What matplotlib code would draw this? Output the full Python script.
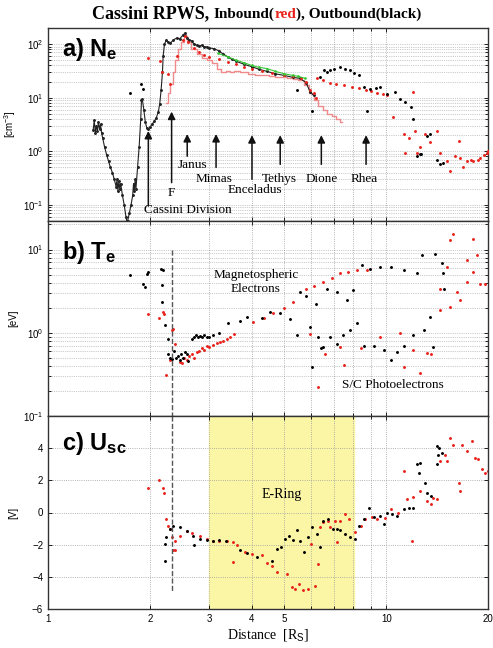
import numpy as np
import matplotlib
matplotlib.use('Agg')
import matplotlib.pyplot as plt
from matplotlib.ticker import FixedLocator, NullFormatter

# ---------------- data ----------------
# panel a) electron density, outbound (black) continuous trace
out_a_line_x = [1.36, 1.37, 1.38, 1.39, 1.40, 1.41, 1.42, 1.43, 1.44, 1.45, 1.47, 1.49, 1.51, 1.53,
                1.55, 1.57, 1.59, 1.60, 1.61, 1.62, 1.63, 1.64, 1.66, 1.68, 1.70, 1.71, 1.72, 1.74,
                1.76, 1.78, 1.79, 1.80, 1.81, 1.82, 1.84, 1.86, 1.88, 1.89, 1.90, 1.92, 1.94, 1.96,
                1.98, 2.00, 2.03, 2.06, 2.09, 2.12, 2.14, 2.16, 2.18, 2.19, 2.21, 2.24, 2.26, 2.30,
                2.35, 2.40, 2.45, 2.50, 2.54, 2.58, 2.62, 2.66, 2.70, 2.75, 2.80, 2.85, 2.90, 2.95,
                3.00, 3.10, 3.20, 3.30, 3.40, 3.50, 3.60, 3.80, 4.00, 4.20, 4.44, 4.70, 5.00, 5.30,
                5.56, 5.80, 5.95, 6.10]
out_a_line_y = [2.5, 3.8, 2.2, 3.0, 2.4, 3.5, 2.6, 3.2, 2.2, 1.8, 1.2, 0.87, 0.65, 0.5,
                0.4, 0.3, 0.22, 0.3, 0.18, 0.28, 0.2, 0.25, 0.15, 0.1, 0.06, 0.05, 0.05, 0.07,
                0.1, 0.15, 0.25, 0.18, 0.3, 0.2, 0.5, 1.2, 4.0, 8.9, 9.5, 6.0, 3.5, 2.7,
                2.6, 2.8, 3.2, 3.6, 4.2, 5.5, 7.7, 14, 30, 60, 100, 120, 110, 105,
                120, 130, 125, 145, 160, 130, 120, 115, 100, 95, 92, 95, 90, 88,
                85, 82, 75, 65, 58, 52, 48, 42, 38, 34, 31, 28, 26, 24,
                23, 19, 13, 11]
# outbound scattered points
out_a_dots_x = [1.75, 1.89, 1.91, 5.44, 6.03, 6.38, 6.53, 6.68, 6.84, 7.0, 7.3, 7.55, 7.83, 8.05,
                8.29, 8.59, 8.77, 8.97, 9.3, 9.6, 10.06, 10.6, 11.0, 11.37, 11.88, 12.0, 12.3,
                12.6, 12.7, 13.2, 13.5, 14.1, 14.4, 14.7]
out_a_dots_y = [12.4, 18.4, 14.8, 13.7, 5.7, 24.6, 32.8, 30, 32.8, 35, 38, 35, 32.8, 29,
                26, 16, 5.7, 14.8, 15, 16, 11.9, 12.8, 9.5, 8.3, 6.7, 4.0, 0.81,
                0.9, 0.88, 1.94, 2.1, 0.7, 0.57, 0.6]
# inbound (red) trace and points
in_a_line_x = [2.24, 2.28, 2.32, 2.36, 2.40, 2.45, 2.50, 2.54, 2.60, 2.70, 2.80, 2.90, 3.00, 3.10,
               3.20, 3.30, 3.40, 3.50, 3.60, 3.80, 4.00, 4.20, 4.40, 4.60, 4.80, 5.00, 5.20,
               5.40, 5.60, 5.80, 6.00, 6.20, 6.40, 6.60, 6.80, 7.00, 7.20, 7.40]
in_a_line_y = [8, 12, 18, 30, 50, 80, 110, 140, 110, 80, 65, 55, 50, 45,
               35, 30, 31, 30, 32, 30, 28, 27, 26, 25, 24, 24, 23,
               22, 21, 17, 12, 9, 7, 6, 5, 4.5, 4, 3.5]
in_a_dots_x = [1.98, 2.14, 2.17, 2.27, 2.29, 2.40, 2.50, 2.54, 2.60, 2.70, 2.80, 2.90, 3.00, 3.20,
               3.40, 3.60, 3.80, 4.00, 4.30, 4.60, 5.00, 5.30, 5.60, 5.80, 5.95, 6.10, 6.20,
               6.23, 6.50, 6.80, 7.10, 7.50, 7.92, 8.30, 8.70, 9.00, 9.40, 9.80, 10.06, 10.5,
               11.26, 11.4, 11.65, 11.97, 12.2, 12.3, 12.6, 13.0, 13.5, 14.1, 14.4, 15.1, 15.4,
               16.0, 16.4, 16.5, 16.9, 17.3, 17.8, 18.1, 18.7, 19.0, 19.5, 19.8, 20.0]
in_a_dots_y = [54, 48, 30, 28, 18, 60, 120, 140, 110, 85, 70, 62, 58, 52,
               46, 42, 38, 35, 32, 29, 27, 25, 23, 20, 14, 12, 10,
               23, 21, 19, 18, 17, 16, 15, 14, 13.5, 12.5, 11.5, 11, 4.3,
               2.1, 0.94, 1.8, 12.8, 2.4, 0.94, 1.2, 2.1, 1.5, 2.4, 0.94, 0.66, 0.43,
               0.8, 1.56, 0.76, 0.5, 0.65, 0.7, 0.66, 0.7, 0.76, 0.85, 0.94, 1.0]
# model curve (green)
green_x = [3.19, 3.4, 3.6, 3.8, 4.0, 4.2, 4.44, 4.7, 5.0, 5.3, 5.5, 5.76]
green_y = [67, 58, 50, 45, 40, 37, 35, 31, 28, 26, 25, 23]

# moon / ring markers: name, x, arrow head, arrow tail, label y
moon_names = ['Cassini Division', 'F', 'Janus', 'Mimas', 'Enceladus', 'Tethys', 'Dione', 'Rhea']
moon_x = [1.98, 2.32, 2.58, 3.14, 4.01, 4.86, 6.43, 8.72]
moon_label_x = [2.6, 2.32, 2.68, 3.09, 4.08, 4.84, 6.45, 8.6]
moon_head = [2.4, 5.5, 2.1, 2.1, 2.0, 2.0, 2.0, 2.0]
moon_tail = [0.095, 0.26, 0.81, 0.5, 0.3, 0.57, 0.57, 0.57]
moon_label_y = [0.081, 0.17, 0.55, 0.31, 0.19, 0.31, 0.31, 0.30]

# panel b) electron temperature
out_b_x = [1.75, 1.91, 1.93, 1.96, 1.97, 2.16, 2.19, 2.17, 2.18, 2.22, 2.27,
           2.27, 2.30, 2.33, 2.36, 2.39, 2.42, 2.45, 2.48, 2.51, 2.54, 2.57, 2.60,
           2.66, 2.70, 2.74, 2.78, 2.82, 2.86, 2.90, 2.95, 3.00, 3.07, 3.20, 3.40, 3.70,
           3.87, 4.29, 4.53, 4.86, 5.20, 5.56, 5.81, 6.20, 6.67, 7.14, 7.65, 8.00, 8.46, 8.97,
           9.60, 10.3, 11.26, 12.3, 12.76, 13.9, 14.6, 14.7, 14.8,
           5.44, 5.95, 6.30, 6.52, 6.84, 7.14, 7.47, 7.83, 8.18, 8.59, 9.19, 9.83, 10.3,
           10.75, 11.26, 12.0, 12.9, 13.5, 13.8, 6.03, 6.43]
out_b_y = [5.0, 3.9, 3.5, 5.1, 5.4, 5.9, 5.6, 3.7, 2.35, 1.24, 0.85,
           0.55, 0.5, 0.48, 0.6, 0.5, 0.52, 0.47, 0.55, 0.5, 0.58, 0.55, 0.46,
           0.85, 0.9, 0.95, 0.88, 0.92, 0.88, 0.93, 0.9, 0.88, 0.95, 1.0, 1.3, 1.4,
           1.55, 1.49, 1.78, 1.71, 1.45, 3.1, 2.8, 2.2, 3.4, 3.1, 2.45, 3.25, 6.5, 5.9,
           6.2, 6.2, 5.6, 5.2, 8.7, 8.9, 6.8, 5.15, 3.4,
           0.93, 1.18, 0.9, 0.68, 0.9, 0.74, 0.93, 1.08, 1.3, 0.7, 0.7, 0.62, 0.47,
           0.59, 0.7, 0.93, 1.08, 1.55, 0.68, 0.39, 0.65]
in_b_x = [1.97, 2.13, 2.19, 2.21, 2.24, 2.29, 2.32, 2.35, 2.37,
          2.45, 2.49, 2.53, 2.57, 2.62, 2.66, 2.70, 2.75, 2.80, 2.85, 2.90, 2.95, 3.00, 3.08,
          3.15, 3.23, 3.30, 3.38, 3.46, 3.54,
          4.05, 4.35, 4.64, 5.0, 5.31, 5.81, 6.1, 6.52, 6.9, 7.3, 7.7, 8.18, 8.77,
          5.95, 6.6, 7.3, 8.4, 9.6, 11.0, 12.0, 13.2, 13.6, 12.6, 7.5, 11.3,
          14.4, 15.4, 16.2, 16.5, 17.3, 18.1, 19.0, 19.6, 15.4, 15.8, 18.1, 17.3, 18.5,
          14.4, 15.1, 6.3]
in_b_y = [1.66, 1.49, 1.78, 1.66, 0.31, 0.47, 1.08, 1.12, 0.74,
          0.45, 0.43, 0.5, 0.47, 0.52, 0.55, 0.5, 0.59, 0.6, 0.65, 0.62, 0.7, 0.68, 0.72,
          0.75, 0.78, 0.8, 0.85, 0.9, 0.96,
          1.36, 1.5, 1.71, 2.0, 2.35, 3.4, 3.6, 4.1, 4.6, 5.15, 5.4, 5.6, 5.6,
          0.96, 0.56, 0.68, 0.65, 0.9, 0.98, 0.62, 0.57, 0.56, 0.33, 0.41, 0.39,
          1.87, 2.05, 3.1, 2.45, 4.1, 5.4, 3.9, 3.9, 12.9, 15.3, 13.5, 7.4, 8.5,
          3.4, 6.2, 0.22]

# panel c) spacecraft potential
out_c_x = [2.22, 2.22, 2.24, 2.29, 2.35, 2.46, 2.57, 2.69, 2.71, 2.81, 2.95, 3.08, 3.2, 3.35,
           3.7, 3.87, 4.14, 4.59, 4.74, 4.89, 5.03, 5.17, 5.31, 5.45, 5.56, 5.71, 5.88,
           6.03, 6.23, 6.36, 6.52, 6.74, 6.98, 7.14, 7.3, 7.56, 7.83, 8.1, 8.29, 8.59,
           8.87, 9.19, 9.6, 9.83, 10.06, 10.4, 10.75, 11.26, 11.65, 12.0, 12.3, 12.6,
           12.5, 13.05, 13.2, 13.6, 14.1, 14.3, 14.6, 14.1, 14.2]
out_c_y = [-1.95, -3.02, -1.5, -1.0, -0.82, -0.93, -1.13, -1.44, -2.05, -1.64, -1.7, -1.75, -1.7, -1.8,
           -2.32, -2.5, -2.78, -3.02, -2.26, -2.16, -1.64, -1.44, -1.69, -1.07, -1.75, -2.47, -1.54,
           -0.93, -1.33, -2.16, -0.51, -0.41, -1.03, -1.03, -1.09, -1.33, -1.54, -1.64, -0.82, -0.41,
           0.31, -0.31, -0.2, -0.72, 0.0, -0.1, -0.2, 0.21, 0.31, 0.31, 2.99, 3.09,
           2.47, 1.85, 1.23, 1.03, 4.12, 4.01, 3.7, 2.99, 3.6]
in_c_x = [1.97, 2.13, 2.19, 2.21, 2.24, 2.27, 2.29, 2.32, 2.34, 2.37, 2.37, 2.46, 2.57, 2.66,
          2.81, 2.95, 3.08, 3.2, 3.38, 3.53, 3.62, 3.53,
          3.82, 4.0, 4.29, 4.45, 4.61, 4.77, 5.08, 5.26, 5.37, 5.53, 5.69, 5.88, 6.16, 6.3,
          5.99, 6.36, 6.52, 6.74, 7.06, 7.3, 7.56, 7.74, 7.14, 6.84, 8.1, 8.4, 8.67, 9.06,
          9.39, 9.95, 10.3, 10.84, 11.26, 11.5, 11.9, 12.0, 12.6, 13.2, 13.6, 13.8, 14.1,
          14.4, 14.9, 15.1, 15.4, 15.8, 16.4, 16.5, 16.8, 17.3, 17.9, 18.3, 18.7, 19.2,
          19.6, 20.0]
in_c_y = [1.54, 2.0, 1.5, 1.23, -0.4, -0.82, -1.03, -1.54, -2.36, -2.36, -1.75, -1.44, -1.13, -1.3,
          -1.44, -1.64, -1.75, -1.8, -1.75, -1.85, -2.05, -3.09,
          -2.47, -2.57, -2.67, -3.12, -3.33, -3.7, -3.8, -4.63, -4.73, -4.42, -4.83, -4.73, -4.59, -3.23,
          -1.95, -0.93, -0.62, -0.51, -0.51, -0.51, -0.1, -0.41, -1.81, -0.93, -1.23, -0.82, -0.41, -0.27,
          -0.41, -0.35, 0.21, 0.0, 2.57, 0.82, -1.75, 0.97, 1.34, 0.72, 0.52, 0.93, 0.82,
          3.19, 3.6, 3.19, 4.63, 4.22, 1.85, 1.34, 4.22, 3.81, 4.43, 3.4, 3.3, 2.68,
          2.47, 2.57]

ering_x0, ering_x1 = 3.0, 8.05
dash_x = 2.32

# ---------------- figure ----------------
plt.rcParams['mathtext.fontset'] = 'custom'
plt.rcParams['mathtext.rm'] = 'Liberation Sans'
plt.rcParams['mathtext.bf'] = 'Liberation Sans:bold'
plt.rcParams['font.family'] = 'Liberation Sans'

fig = plt.figure(figsize=(4.93, 6.48), dpi=100)
L, W = 48 / 493, 440 / 493
ax_a = fig.add_axes([L, 1 - 221 / 648, W, 193 / 648])
ax_b = fig.add_axes([L, 1 - 416 / 648, W, 195 / 648])
ax_c = fig.add_axes([L, 1 - 609 / 648, W, 193 / 648])

serif = 'Liberation Serif'
red = '#e8231c'
ms = 2.2

for ax in (ax_a, ax_b, ax_c):
    ax.set_xscale('log')
    ax.set_xlim(1, 20)
    ax.xaxis.set_major_locator(FixedLocator([1, 2, 3, 4, 5, 10, 20]))
    ax.xaxis.set_minor_locator(FixedLocator([6, 7, 8, 9]))
    ax.xaxis.set_minor_formatter(NullFormatter())
    ax.tick_params(which='both', direction='in', top=True, right=True, labelsize=7,
                   length=3, width=0.6)
    ax.tick_params(which='minor', length=2)
    ax.grid(True, which='both', axis='x', ls=':', color='#9a9a9a', lw=0.6)
    for s in ax.spines.values():
        s.set_linewidth(1.0)
        s.set_color('#333333')
    if ax is not ax_c:
        ax.tick_params(labelbottom=False)
    ax.yaxis.set_label_coords(-0.068, 0.5)

ax_c.set_xticklabels(['1', '2', '3', '4', '5', '10', '20'])

# panel a
ax_a.set_yscale('log')
ax_a.set_ylim(0.05, 200)
ax_a.grid(True, which='both', axis='y', ls=':', color='#9a9a9a', lw=0.5)
ax_a.plot(in_a_line_x, in_a_line_y, color='#f08a8a', lw=1.0, drawstyle='steps-mid', zorder=3)
ax_a.plot(out_a_line_x, out_a_line_y, color='#222222', lw=0.8, marker='.', ms=ms, zorder=4)
ax_a.plot(in_a_dots_x, in_a_dots_y, ls='none', marker='.', ms=ms, color=red, zorder=4)
ax_a.plot(out_a_dots_x, out_a_dots_y, ls='none', marker='.', ms=ms, color='k', zorder=4)
ax_a.plot(green_x, green_y, color='#35c735', lw=0.8, marker='.', ms=1.8, zorder=5)
ax_a.set_ylabel('[cm$^{-3}$]', fontsize=7)
ax_a.text(0.032, 0.89, r'a) $\mathbf{N_e}$', transform=ax_a.transAxes, fontsize=17,
          fontweight='bold', va='center', ha='left')
for name, mx, lx, hy, ty, ly in zip(moon_names, moon_x, moon_label_x, moon_head, moon_tail, moon_label_y):
    ax_a.annotate('', xy=(mx, hy), xytext=(mx, ty),
                  arrowprops=dict(arrowstyle='-|>', color='#111111', lw=1.1, mutation_scale=11,
                                  shrinkA=0, shrinkB=0))
    ax_a.text(lx, ly, name, family=serif, fontsize=9.5, ha='center', va='center')

# panel b
ax_b.set_yscale('log')
ax_b.set_ylim(0.1, 22)
ax_b.grid(True, which='both', axis='y', ls=':', color='#9a9a9a', lw=0.5)
ax_b.plot(in_b_x, in_b_y, ls='none', marker='.', ms=ms, color=red)
ax_b.plot(out_b_x, out_b_y, ls='none', marker='.', ms=ms, color='k')
ax_b.plot([dash_x, dash_x], [10, 0.1], ls='--', color='#555555', lw=1.0)
ax_b.set_ylabel('[eV]', fontsize=7)
ax_b.text(0.032, 0.84, r'b) $\mathbf{T_e}$', transform=ax_b.transAxes, fontsize=17,
          fontweight='bold', va='center', ha='left')
ax_b.text(4.12, 4.1, 'Magnetospheric\nElectrons', family=serif, fontsize=9.5,
          ha='center', va='center', linespacing=1.2)
ax_b.text(10.5, 0.236, 'S/C Photoelectrons', family=serif, fontsize=9.5, ha='center', va='center')

# panel c
ax_c.set_ylim(-6, 6)
ax_c.set_yticks([-6, -4, -2, 0, 2, 4])
ax_c.grid(True, which='major', axis='y', ls=':', color='#9a9a9a', lw=0.6)
ax_c.axvspan(ering_x0, ering_x1, color='#fbf5a6', zorder=0)
ax_c.plot(in_c_x, in_c_y, ls='none', marker='.', ms=ms, color=red)
ax_c.plot(out_c_x, out_c_y, ls='none', marker='.', ms=ms, color='k')
ax_c.plot([dash_x, dash_x], [6, -4.85], ls='--', color='#555555', lw=1.0)
ax_c.set_ylabel('[V]', fontsize=7)
ax_c.text(0.032, 0.86, r'c) $\mathbf{U_{sc}}$', transform=ax_c.transAxes, fontsize=17,
          fontweight='bold', va='center', ha='left')
ax_c.text(4.9, 1.13, 'E-Ring', family=serif, fontsize=10, ha='center', va='center')
ax_c.set_xlabel(r'Distance  [R$_\mathrm{S}$]', family=serif, fontsize=10, labelpad=2)

# title built from pieces so the word "red" can be coloured
pieces = [('Cassini RPWS, ', 13, 'k'), ('Inbound(', 11, 'k'), ('red', 11, red),
          ('), Outbound(black)', 11, 'k')]
renderer = fig.canvas.get_renderer()
texts, widths = [], []
for s, fs, c in pieces:
    t = fig.text(0, 1 - 14 / 648, s, family=serif, fontweight='bold', fontsize=fs, color=c,
                 va='center', ha='left')
    texts.append(t)
    widths.append(t.get_window_extent(renderer).width / fig.bbox.width)
x0 = 0.5 + 0.02 - sum(widths) / 2
for t, w in zip(texts, widths):
    t.set_x(x0)
    x0 += w

fig.savefig('out.png', dpi=100)
